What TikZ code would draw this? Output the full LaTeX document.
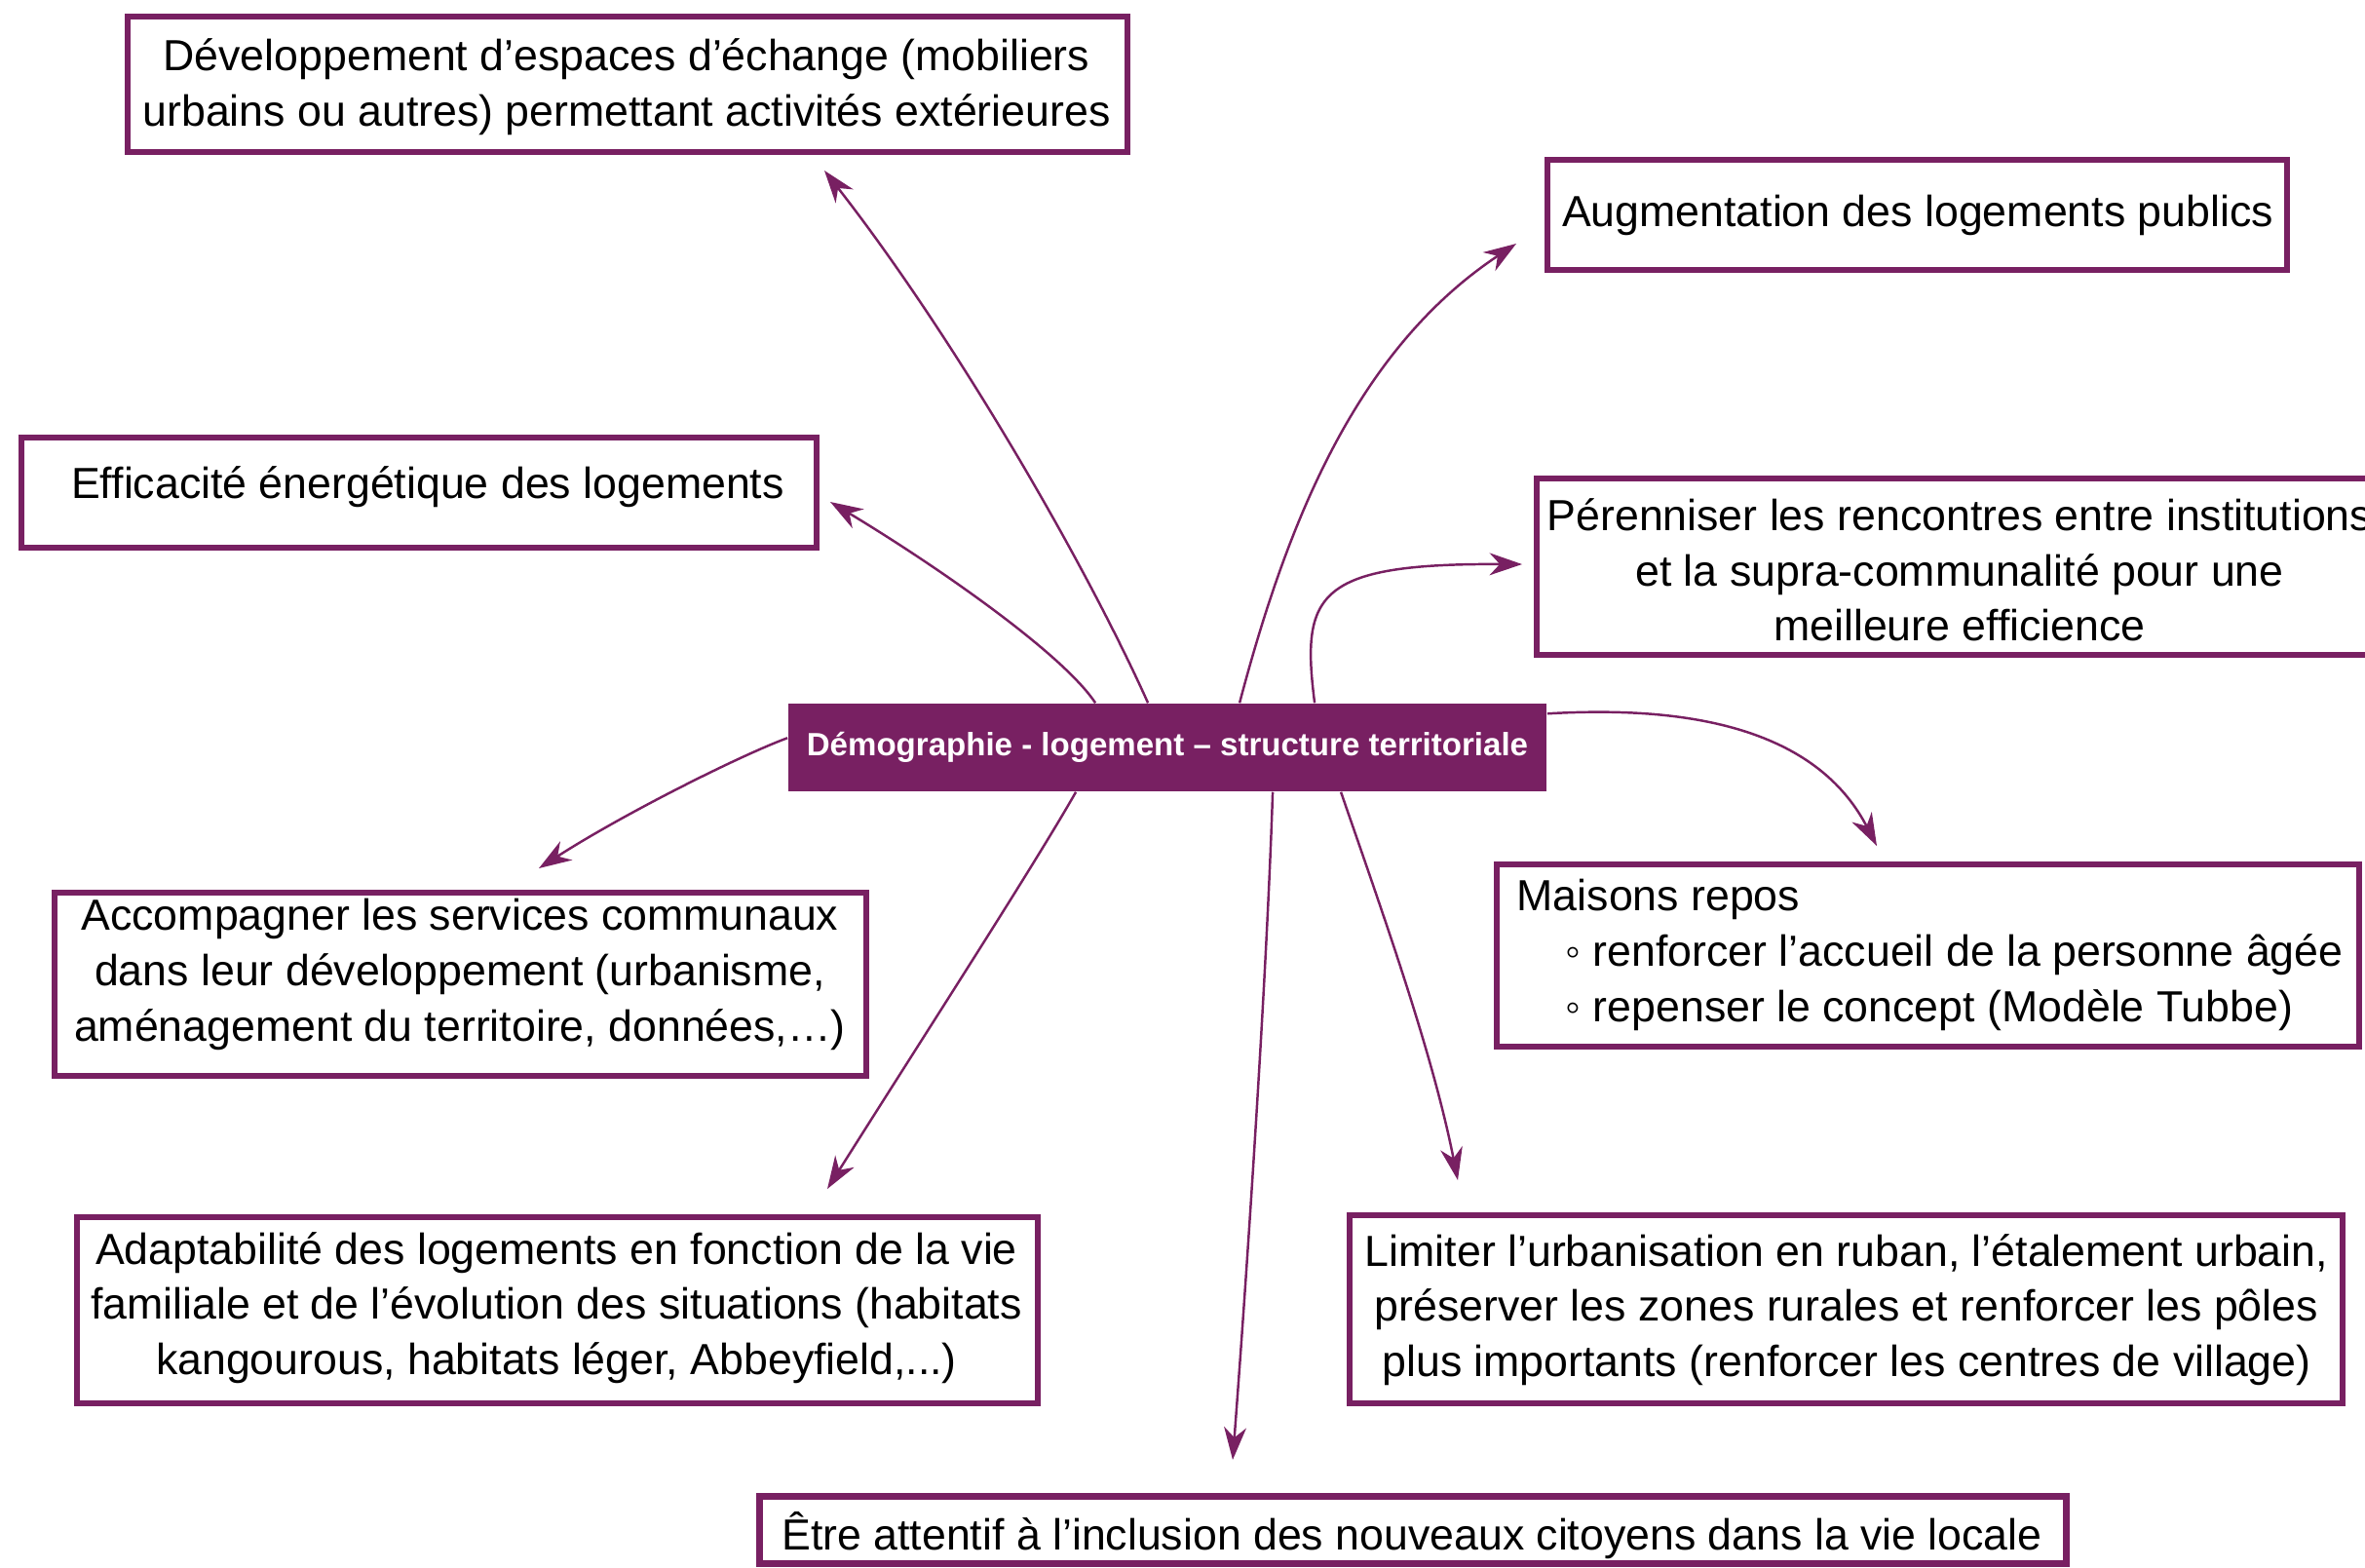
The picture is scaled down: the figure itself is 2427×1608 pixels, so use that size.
\documentclass[tikz,border=0pt]{standalone}
\usepackage{fontspec}
\setmainfont{Liberation Sans}
\usetikzlibrary{arrows.meta,calc}
\definecolor{plum}{RGB}{120,32,98}
\begin{document}
\begin{tikzpicture}[x=0.01cm,y=0.01cm,
  box/.style={draw=plum, line width=1.8pt, fill=white, inner sep=0pt},
  txt/.style={font=\fontsize{12.7pt}{16.1pt}\selectfont, align=center, inner sep=0pt, text=black},
  link/.style={draw=plum, line width=0.7pt, -{Stealth[length=9.5pt,width=6.5pt,inset=3pt]}},
]
\useasboundingbox (0,0) rectangle (2427,-1608);

% boxes
\node[box, minimum width=10.26cm, minimum height=1.39cm] (dev) at (644,-86.5) {};
\node[box, minimum width=7.59cm, minimum height=1.13cm] (aug) at (1967.5,-220.5) {};
\node[box, minimum width=8.16cm, minimum height=1.13cm] (eff) at (430,-505.5) {};
\node[box, minimum width=8.68cm, minimum height=1.81cm] (per) at (2011,-581.5) {};
\node[box, minimum width=8.33cm, minimum height=1.88cm] (acc) at (472.5,-1010) {};
\node[box, minimum width=8.85cm, minimum height=1.87cm] (mai) at (1978.5,-980.5) {};
\node[box, minimum width=9.86cm, minimum height=1.91cm] (ada) at (572,-1344.5) {};
\node[box, minimum width=10.19cm, minimum height=1.93cm] (lim) at (1894.5,-1343.5) {};
\node[box, minimum width=13.40cm, minimum height=0.69cm] (etr) at (1450,-1570) {};

% central node
\node[fill=plum, minimum width=7.78cm, minimum height=0.9cm, inner sep=0pt, text=white,
      font=\bfseries\fontsize{9.4pt}{11pt}\selectfont] (cen) at (1198,-767)
      {Démographie - logement – structure territoriale};

% texts
\node[txt] (devT) at (643,-89) {Développement d’espaces d’échange (mobiliers\\urbains ou autres) permettant activités extérieures};
\node[txt] (augT) at (1968,-221) {Augmentation des logements publics};
\node[txt] (effT) at (439,-500) {Efficacité énergétique des logements};
\node[txt] (perT) at (2011,-585) {Pérenniser les rencontres entre institutions\\et la supra-communalité pour une\\meilleure efficience};
\node[txt] (accT) at (472,-1000) {Accompagner les services communaux\\dans leur développement (urbanisme,\\aménagement du territoire, données,…)};
\node[txt, align=left, anchor=west] (maiT) at (1556,-980) {Maisons repos\\\hspace*{14.2pt}◦ renforcer l’accueil de la personne âgée\\\hspace*{14.2pt}◦ repenser le concept (Modèle Tubbe)};
\node[txt] (adaT) at (571,-1342) {Adaptabilité des logements en fonction de la vie\\familiale et de l’évolution des situations (habitats\\kangourous, habitats léger, Abbeyfield,...)};
\node[txt] (limT) at (1895,-1344) {Limiter l’urbanisation en ruban, l’étalement urbain,\\préserver les zones rurales et renforcer les pôles\\plus importants (renforcer les centres de village)};
\node[txt] (etrT) at (1449,-1576) {Être attentif à l’inclusion des nouveaux citoyens dans la vie locale};

% connector start points on the central node
\coordinate (sEff) at ($(cen.north west)+(316,0)$);
\coordinate (sDev) at ($(cen.north west)+(370,0)$);
\coordinate (sAug) at ($(cen.north west)+(464,0)$);
\coordinate (sPer) at ($(cen.north west)+(541,0)$);
\coordinate (sMai) at ($(cen.north east)+(0,-11)$);
\coordinate (sAcc) at ($(cen.north west)+(0,-36)$);
\coordinate (sAda) at ($(cen.south west)+(296,0)$);
\coordinate (sEtr) at ($(cen.south west)+(498,0)$);
\coordinate (sLim) at ($(cen.south west)+(568,0)$);

% arrow tips
\coordinate (tEff) at (852,-515);
\coordinate (tDev) at (846,-175);
\coordinate (tAug) at (1556,-250);
\coordinate (tPer) at (1562,-579);
\coordinate (tMai) at (1926,-868);
\coordinate (tAcc) at (553,-891);
\coordinate (tAda) at (849,-1220);
\coordinate (tEtr) at (1265,-1498);
\coordinate (tLim) at (1496,-1211);

% connectors
\draw[link] (sEff) .. controls (1090,-670) and (960,-580) .. (tEff);
\draw[link] (sDev) .. controls (1110,-570) and (975,-340) .. (tDev);
\draw[link] (sAug) .. controls (1320,-540) and (1390,-360) .. (tAug);
\draw[link] (sPer) .. controls (1335,-610) and (1350,-578) .. (tPer);
\draw[link] (sMai) .. controls (1760,-722) and (1870,-760) .. (tMai);
\draw[link] (sAcc) .. controls (760,-775) and (640,-835) .. (tAcc);
\draw[link] (sAda) .. controls (1060,-890) and (950,-1060) .. (tAda);
\draw[link] (sEtr) .. controls (1300,-1000) and (1280,-1300) .. (tEtr);
\draw[link] (sLim) .. controls (1420,-940) and (1470,-1080) .. (tLim);
\end{tikzpicture}
\end{document}
